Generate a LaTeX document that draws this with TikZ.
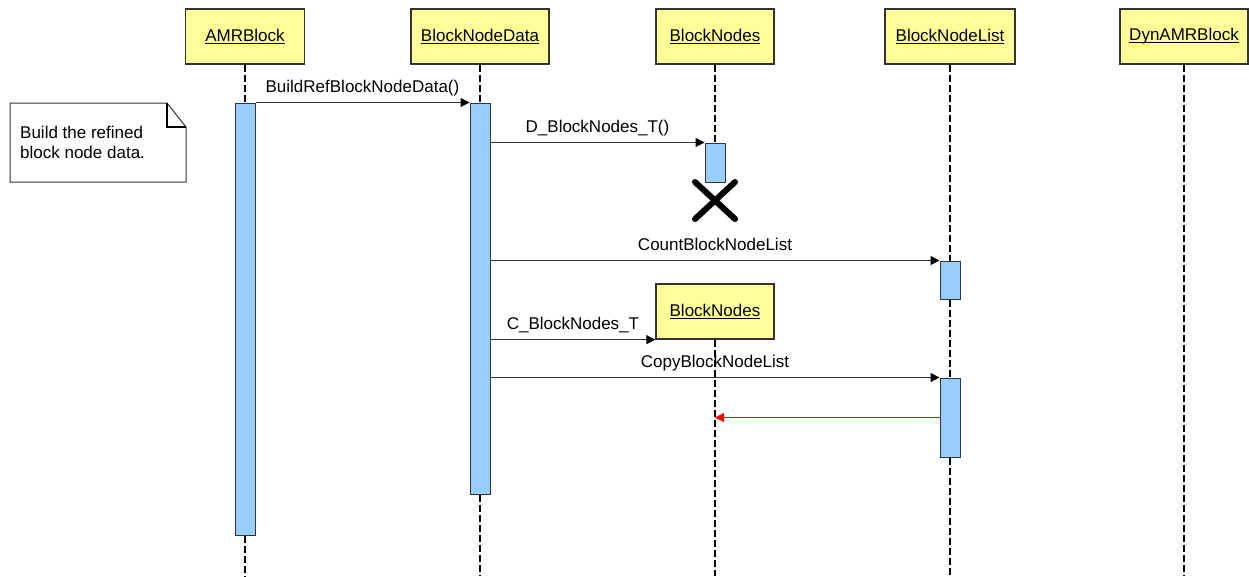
\documentclass[tikz,border=0pt]{standalone}
\usepackage{fontspec}
\setmainfont{Liberation Sans}
\usetikzlibrary{arrows.meta}

\definecolor{objyellow}{HTML}{FFFF99}
\definecolor{actblue}{HTML}{99CCFF}
\definecolor{edge}{HTML}{333333}

% underlined object name, rule just under the baseline
\newcommand\objname[1]{\setbox0\hbox{#1}\rlap{\rule[-2.5pt]{\wd0}{1pt}}\box0}
\newcommand\dfont{\fontsize{17}{20}\selectfont}

\tikzset{
  obj/.style={draw=edge, line width=1.3pt, fill=objyellow, minimum height=55pt,
              inner sep=0pt, font=\dfont},
  act/.style={draw=edge, line width=1pt, fill=actblue, minimum width=20pt, inner sep=0pt},
  life/.style={line width=2pt, dash pattern=on 7pt off 3pt},
  msg/.style={draw=edge, line width=1pt, -{Triangle[length=9pt,width=9pt,color=black]}},
  ret/.style={draw=red, line width=1pt, -{Triangle[length=9pt,width=9pt]}},
  lbl/.style={midway, anchor=base, yshift=10pt, inner sep=0pt, font=\dfont, text=black},
}

\begin{document}
\begin{tikzpicture}[x=1pt, y=-1pt]
  \useasboundingbox (0,0) rectangle (1249,576);
  \coordinate (bot) at (0,576);

  % object headers
  \node[obj, minimum width=119pt] (amr)  at (245,36.5)  {\objname{AMRBlock}};
  \node[obj, minimum width=138pt] (bnd)  at (480,36.5)  {\objname{BlockNodeData}};
  \node[obj, minimum width=118pt] (bn)   at (715,36.5)  {\objname{BlockNodes}};
  \node[obj, minimum width=130pt] (bnl)  at (950,36.5)  {\objname{BlockNodeList}};
  \node[obj, minimum width=128pt] (dyn)  at (1184,36.5) {\objname{DynAMRBlock}};

  % activation bars
  \node[act, minimum height=432pt] (a1) at (245,319)   {};
  \node[act, minimum height=391pt] (a2) at (480,298.5) {};
  \node[act, minimum height=39pt]  (a3) at (715,162.5) {};
  \node[act, minimum height=38pt]  (a4) at (950,280)   {};
  \node[act, minimum height=79pt]  (a5) at (950,417.5) {};

  % object created later on the BlockNodes lifeline
  \node[obj, minimum width=118pt] (bn2) at (715,311.5) {\objname{BlockNodes}};

  % lifelines
  \draw[life] (amr.south) -- (a1.north);
  \draw[life] (a1.south) -- (a1.south |- bot);
  \draw[life] (bnd.south) -- (a2.north);
  \draw[life] (a2.south) -- (a2.south |- bot);
  \draw[life] (bn.south) -- (a3.north);
  \draw[life] (bn2.south) -- (bn2.south |- bot);
  \draw[life] (bnl.south) -- (a4.north);
  \draw[life] (a4.south) -- (a5.north);
  \draw[life] (a5.south) -- (a5.south |- bot);
  \draw[life] (dyn.south) -- (dyn.south |- bot);

  % destruction mark
  \coordinate (kill) at (715,200.5);
  \draw[line width=6pt, line cap=round]
    ([shift={(-20,-18.5)}]kill) -- ([shift={(20,18.5)}]kill)
    ([shift={(-20,18.5)}]kill) -- ([shift={(20,-18.5)}]kill);

  % messages
  \draw[msg] (a1.north east) -- (a2.north west) node[lbl] {BuildRefBlockNodeData()};
  \draw[msg] (a2.east |- a3.north) -- (a3.north west) node[lbl] {D\_BlockNodes\_T()};
  \draw[msg] (a2.east |- a4.north) -- (a4.north west) node[lbl] {CountBlockNodeList};
  \draw[msg] (a2.east |- bn2.south) -- (bn2.south west) node[lbl] {C\_BlockNodes\_T};
  \draw[msg] (a2.east |- a5.north) -- (a5.north west) node[lbl] {CopyBlockNodeList};
  \draw[ret] (a5.west) -- (a5.west -| bn2.center);

  % note with folded corner
  \coordinate (nw) at (10,103);
  \coordinate (se) at (186,182);
  \coordinate (fold) at (167,127);
  \draw[draw=edge, line width=1pt, fill=white]
    (nw) -- (fold |- nw) -- (se |- fold) -- (se) -- (nw |- se) -- cycle;
  \draw[line width=1.6pt] (fold |- nw) -- (fold) -- (se |- fold);
  \node[anchor=base west, align=left, inner sep=0pt, font=\dfont] (notetext) at (20,158)
    {Build the refined\\block node data.};
\end{tikzpicture}
\end{document}
